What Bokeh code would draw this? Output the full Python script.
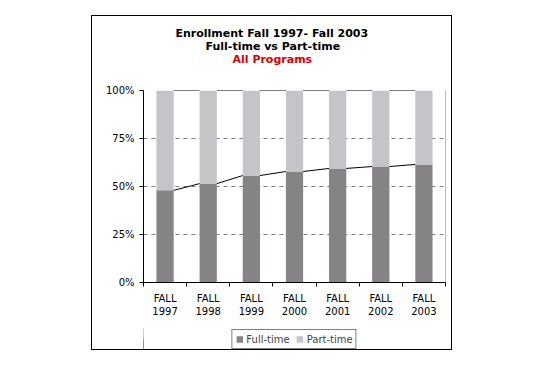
from bokeh.plotting import figure
from bokeh.layouts import row, column
from bokeh.models import (ColumnDataSource, FixedTicker, NumeralTickFormatter, Title,
                          Legend, LegendItem, Span, Spacer)
from bokeh.embed import file_html
from bokeh.resources import INLINE

years = ["1997", "1998", "1999", "2000", "2001", "2002", "2003"]
full_time = [0.48, 0.515, 0.557, 0.578, 0.594, 0.604, 0.615]
part_time = [1 - v for v in full_time]
y_ticks = [0, 0.25, 0.5, 0.75, 1.0]

FONT = "DejaVu Sans"
DARK = "#858386"
LIGHT = "#c5c4c8"

xs = [i + 0.5 for i in range(len(years))]
src = ColumnDataSource(dict(x=xs, full=full_time, part=part_time))

p = figure(width=361, height=313, x_range=(0, 7), y_range=(0, 1),
           output_backend="svg", toolbar_location=None,
           min_border_left=51, min_border_right=8, min_border_top=74, min_border_bottom=47)
p.styles = {"border-left": "1px solid black", "border-right": "1px solid black",
            "border-top": "1px solid black"}
p.outline_line_color = None

r = p.vbar_stack(["full", "part"], x="x", width=0.4, color=[DARK, LIGHT], line_color=None, source=src)

bw = 0.4
tops_full = full_time
tops_all = [f + q for f, q in zip(full_time, part_time)]
x0 = [xs[i] + bw / 2 for i in range(len(xs) - 1)]
x1 = [xs[i + 1] - bw / 2 for i in range(len(xs) - 1)]
p.segment(x0=x0, y0=tops_full[:-1], x1=x1, y1=tops_full[1:], line_color="black", line_width=1)
p.segment(x0=x0, y0=tops_all[:-1], x1=x1, y1=tops_all[1:], line_color="black", line_width=1)

p.add_layout(Span(location=7, dimension="height", line_color="#808080", line_width=1))

p.yaxis.ticker = FixedTicker(ticks=y_ticks)
p.yaxis.formatter = NumeralTickFormatter(format="0%")
p.yaxis.major_tick_out = 4
p.yaxis.major_tick_in = 0
p.yaxis.minor_tick_line_color = None
p.yaxis.axis_line_color = "black"
p.yaxis.major_tick_line_color = "black"
p.yaxis.major_label_text_font = FONT
p.yaxis.major_label_text_font_size = "10px"
p.yaxis.major_label_text_color = "black"
p.yaxis.major_label_standoff = 5

p.xaxis.ticker = FixedTicker(ticks=xs, minor_ticks=[0.0, 1.0, 2.0, 3.0, 4.0, 5.0, 6.0, 7.0])
p.xaxis.major_label_overrides = {x: "FALL\n" + y for x, y in zip(xs, years)}
p.xaxis.major_tick_line_color = None
p.xaxis.major_tick_out = 0
p.xaxis.major_tick_in = 0
p.xaxis.minor_tick_out = 4
p.xaxis.minor_tick_in = 0
p.xaxis.minor_tick_line_color = "black"
p.xaxis.axis_line_color = "black"
p.xaxis.major_label_text_font = FONT
p.xaxis.major_label_text_font_size = "10px"
p.xaxis.major_label_text_color = "black"
p.xaxis.major_label_standoff = 6

p.xgrid.visible = False
p.ygrid.ticker = FixedTicker(ticks=y_ticks[1:])
p.ygrid.grid_line_color = "#808080"
p.ygrid.grid_line_dash = "4 4"

# spacer between frame and titles, then the three title lines
p.add_layout(Title(text=" ", text_font=FONT, text_font_size="11px", standoff=11), "above")
for txt, col, off in [("All Programs", "#e00000", 89), ("Full-time vs Part-time", "black", 62),
                      ("Enrollment Fall 1997- Fall 2003", "black", 32)]:
    p.add_layout(Title(text=txt, align="left", offset=off, text_font=FONT, text_font_size="11px",
                       text_font_style="bold", text_color=col, standoff=-2), "above")

# legend strip (bottom of the chart box)
lf = figure(width=361, height=22, x_range=(100, 101), y_range=(0, 1),
            output_backend="svg", toolbar_location=None,
            min_border_left=51, min_border_right=8, min_border_top=0, min_border_bottom=0)
lf.styles = {"border-left": "1px solid black", "border-right": "1px solid black",
             "border-bottom": "1px solid black"}
lf.axis.visible = False
lf.grid.visible = False
lf.outline_line_color = None
lr = lf.vbar_stack(["full", "part"], x="x", width=0.4, color=[DARK, LIGHT], line_color=None, source=src)
legend = Legend(items=[LegendItem(label="Full-time", renderers=[lr[0]]),
                       LegendItem(label="Part-time", renderers=[lr[1]])],
                orientation="horizontal", location="center", margin=0,
                border_line_color="black", border_line_width=1,
                label_text_font=FONT, label_text_font_size="10px",
                glyph_width=8, glyph_height=8, label_standoff=3, spacing=6,
                padding=3, label_height=12)
lf.add_layout(legend)

layout = row(Spacer(width=91), column(Spacer(height=15), p, lf))
open("out.html", "w").write(file_html(layout, INLINE))
